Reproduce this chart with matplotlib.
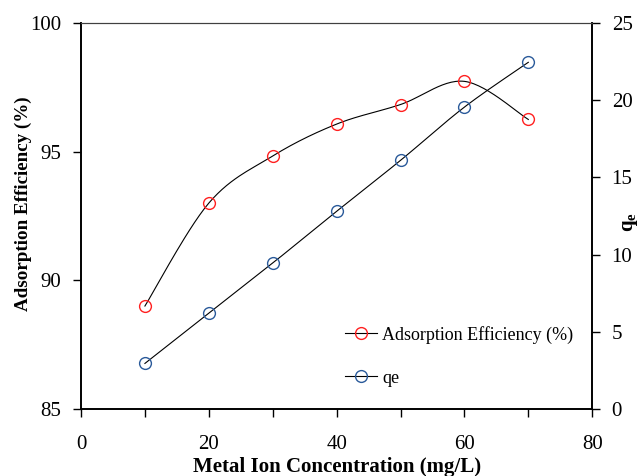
import numpy as np
import matplotlib.pyplot as plt
from matplotlib.ticker import MultipleLocator

plt.rcParams['font.family'] = ['Liberation Serif', 'DejaVu Serif']
plt.rcParams['mathtext.fontset'] = 'custom'
plt.rcParams['mathtext.rm'] = 'Liberation Serif'
plt.rcParams['mathtext.bf'] = 'Liberation Serif:bold'

# metal ion concentration (mg/L)
conc = [10, 20, 30, 40, 50, 60, 70]
# adsorption efficiency (%)
efficiency = [89.0, 93.0, 94.83, 96.07, 96.83, 97.73, 96.25]
# qe
qe = [2.95, 6.2, 9.45, 12.8, 16.1, 19.55, 22.45]


def smooth(x, y, n=30):
    # Catmull-Rom style bezier smoothing, like a spreadsheet "smoothed line"
    x = np.asarray(x, float)
    y = np.asarray(y, float)
    px = np.concatenate([[x[0]], x, [x[-1]]])
    py = np.concatenate([[y[0]], y, [y[-1]]])
    xs, ys = [], []
    t = np.linspace(0, 1, n)
    for i in range(1, len(px) - 2):
        p0 = np.array([px[i], py[i]])
        p3 = np.array([px[i + 1], py[i + 1]])
        p1 = p0 + (np.array([px[i + 1], py[i + 1]]) - np.array([px[i - 1], py[i - 1]])) / 6
        p2 = p3 - (np.array([px[i + 2], py[i + 2]]) - np.array([px[i], py[i]])) / 6
        b = ((1 - t) ** 3)[:, None] * p0 + (3 * (1 - t) ** 2 * t)[:, None] * p1 \
            + (3 * (1 - t) * t ** 2)[:, None] * p2 + (t ** 3)[:, None] * p3
        xs.extend(b[:, 0])
        ys.extend(b[:, 1])
    return xs, ys


red = '#ff2020'
blue = '#2a5a9a'
ms = 8.5

fig = plt.figure(figsize=(6.43, 4.76), dpi=100)
ax = fig.add_axes([0.126, 0.1408, 0.795, 0.811])
ax2 = ax.twinx()

sx, sy = smooth(conc, efficiency)
ax.plot(sx, sy, color='black', lw=0.8)
ax.plot(conc, efficiency, 'o', mfc='none', mec=red, ms=ms, mew=1.0)

qx, qy = smooth(conc, qe)
ax2.plot(qx, qy, color='black', lw=0.8)
ax2.plot(conc, qe, 'o', mfc='none', mec=blue, ms=ms, mew=1.0)

# legend handles: line with marker
h1, = ax.plot([], [], '-o', color='black', lw=0.8, mfc='none', mec=red, ms=ms, mew=1.0)
h2, = ax.plot([], [], '-o', color='black', lw=0.8, mfc='none', mec=blue, ms=ms, mew=1.0)
ax.legend([h1, h2], ['Adsorption Efficiency (%)', 'qe'], loc='center left',
          bbox_to_anchor=(0.517, 0.137), frameon=False, fontsize=13,
          labelspacing=1.44, handlelength=1.78, handletextpad=0.28,
          borderpad=0, borderaxespad=0)

ax.set_xlim(0, 80)
ax.set_ylim(85, 100)
ax2.set_ylim(0, 25)
ax.xaxis.set_major_locator(MultipleLocator(20))
ax.xaxis.set_minor_locator(MultipleLocator(10))
ax.yaxis.set_major_locator(MultipleLocator(5))
ax2.yaxis.set_major_locator(MultipleLocator(5))

ax.tick_params(axis='both', which='both', direction='out', labelsize=15, length=6, width=1)
ax.tick_params(axis='x', which='minor', length=6)
ax.tick_params(axis='x', pad=13)
ax.tick_params(axis='y', pad=8)
ax2.tick_params(axis='y', direction='out', labelsize=15, length=6, width=1, pad=8)

for a in (ax, ax2):
    a.spines['top'].set_color('#404040')
    a.spines['left'].set_linewidth(1.2)
    a.spines['right'].set_linewidth(1.2)
    a.spines['bottom'].set_linewidth(1.2)

ax.set_xlabel('Metal Ion Concentration (mg/L)', fontsize=15, fontweight='bold', labelpad=2)
ax.set_ylabel('Adsorption Efficiency (%)', fontsize=13.7, fontweight='bold')
ax.yaxis.set_label_coords(-0.096, 0.531)
ax2.set_ylabel('q$_\\mathbf{e}$', fontsize=15, fontweight='bold')
ax2.yaxis.set_label_coords(1.055, 0.484)

fig.savefig('out.png', dpi=100)
